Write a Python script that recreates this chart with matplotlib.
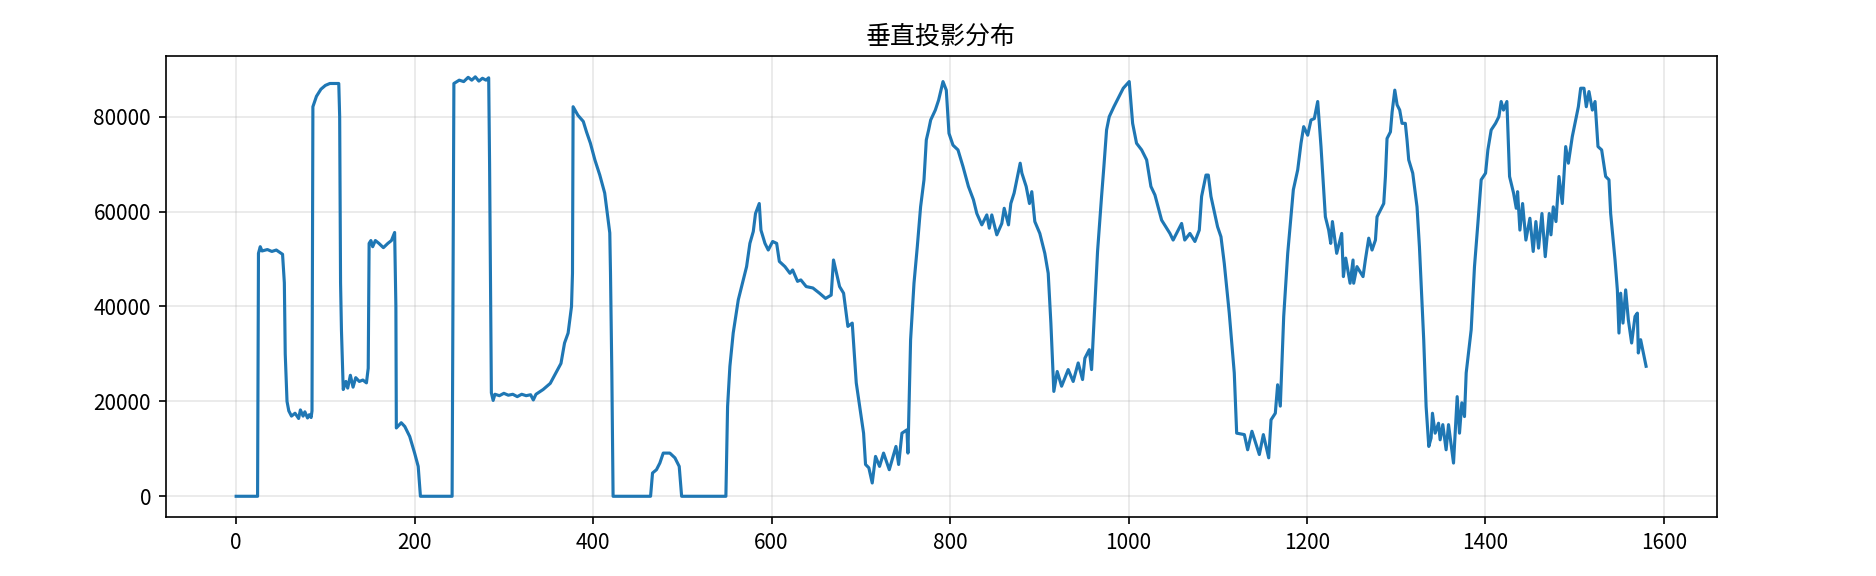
import matplotlib.pyplot as plt

plt.rcParams['font.family'] = ['Noto Sans CJK SC', 'DejaVu Sans']
plt.rcParams['axes.unicode_minus'] = False

# column index (break points)
col = [0, 24, 25, 27, 29, 35, 40, 45, 52, 54, 55, 56, 57, 59, 62, 66, 70, 72, 75, 77, 80, 82, 84, 85,
       86, 90, 95, 100, 105, 115, 116, 117, 118, 120, 123, 125, 128, 131, 134, 138, 142, 146, 148,
       149, 151, 153, 156, 160, 165, 170, 174, 177.6, 179, 179.5, 185, 189, 194.5, 200, 204, 206.5,
       242, 244, 250, 255, 260, 264, 268, 272, 276, 280, 283, 284, 286, 288, 290, 295, 300, 305,
       310, 315, 320, 325, 330, 333, 336, 344, 352, 358, 364, 368, 372, 375.8, 376.9, 377.6, 383,
       389, 392.6, 397, 402, 407.5, 413, 418.7, 419.5, 421, 422.4,
       464.4, 466.6, 471, 474.8, 478.6, 486, 491.7, 496.5, 499.2,
       548.8, 550.7, 553.3, 557, 562.7, 568.3, 572, 575.7, 579.5, 582, 586.2, 588.1, 592.6, 596.3,
       601.2, 605.7, 608.7, 615, 620.6, 623.6, 629.1, 632.8, 638.8, 646.3, 653.7, 660.5, 666.8,
       669.4, 676.2, 680.7, 685.5, 690.4, 694.9, 703.1, 705.3, 709, 712.8, 716.5, 721, 725.5,
       731.9, 739.4, 742.4, 746.1, 751.7, 752.8, 755.8, 759.6, 763.3, 767, 770.8, 773.4, 776,
       778.3, 783.5, 787.2, 792.1, 795.8, 798.8, 803.3, 808.9, 814.5,
       820.6, 826.2, 830, 835.6, 841.2, 844, 846.8, 852.4, 858, 860.7, 865.5, 868.1, 871.8, 874.8,
       878.6, 880.5, 885.3, 889, 891.6, 895, 900.6, 906.2, 910, 913, 916.3, 920.1, 925, 932.4,
       938, 943.6, 948.5, 951.1, 956, 958.6, 965.3, 969.8, 972.4, 975.4, 978.4, 983.6, 988.5,
       994.1, 1000.8, 1004.6, 1009, 1014.7, 1020.3, 1025.1, 1029.6, 1037.1, 1046.4, 1050, 1059.5,
       1063, 1068.8, 1074.4, 1079.3, 1081.9, 1086.8, 1089.4, 1092.4, 1096.1, 1099.8, 1103.6,
       1107.3, 1112.9, 1118.5, 1121.2, 1129.8, 1133.5, 1138.3, 1146.6, 1151.1, 1157.1, 1159.7,
       1164.5, 1167.1, 1170.1, 1173.9, 1178.4, 1184.7, 1189.6, 1193.3, 1196.3, 1200.8, 1204.5,
       1208.2, 1212, 1215.7, 1220.6, 1224.3, 1226.6, 1228.5, 1233.3, 1238.9, 1240.8, 1243.4,
       1248.3, 1251.6, 1252.3, 1256, 1262.8, 1265.4, 1269.2, 1272.9, 1276.7, 1278.5, 1284.1,
       1286, 1287.9, 1289.7, 1293.5, 1295.4, 1298.4, 1301, 1303.9, 1306.5, 1310.2, 1312.1, 1314,
       1318.5, 1323.3, 1326, 1330.8, 1333.5, 1336.5, 1339.1, 1340.6, 1343.6, 1347.4, 1349.2,
       1352.2, 1355.9, 1358.6, 1364.2, 1368.3, 1370.9, 1373.5, 1376.5, 1378.4, 1384, 1387.7,
       1391.5, 1395.2, 1400.1, 1402.7, 1406.4, 1411.3, 1415, 1417.6, 1420.2, 1424, 1427, 1431.5,
       1434.5, 1436, 1438.6, 1441.6, 1445.3, 1449.8, 1453.5, 1456.5, 1459.5, 1463.3, 1467,
       1471.5, 1473.4, 1476, 1479, 1482.4, 1486.1, 1489.9, 1492.9, 1497.3, 1501.1, 1504.1,
       1506.7, 1510.4, 1513, 1516, 1519.8, 1522.8, 1526.1, 1530.2, 1534.7, 1538.4, 1540.3,
       1545.2, 1547.8, 1549.6, 1551.5, 1554.1, 1557.1, 1560.1, 1563.8, 1567.6, 1570.2, 1571.3,
       1573.9, 1580]

# summed pixel values per column
proj = [0, 0, 51200, 52600, 51700, 52000, 51600, 51900, 51000, 45000, 30000, 25000, 20000, 18000,
        16900, 17500, 16400, 18200, 16900, 17800, 16500, 17200, 16600, 18000,
        82100, 84300, 85800, 86600, 87000, 87000, 80000, 45000, 35000, 22500, 24200, 22800, 25500,
        23000, 25000, 24200, 24500, 23900, 27000,
        53300, 53900, 52600, 53900, 53300, 52400, 53300, 53900, 55600, 40000, 14400, 15500, 14700,
        12600, 9100, 6300, 0,
        0, 87000, 87700, 87400, 88300, 87700, 88400, 87500, 88100, 87700, 88200, 70000, 21800,
        20200, 21500, 21200, 21700, 21300, 21500, 21000, 21500, 21200, 21400, 20300, 21500, 22500,
        23800, 25900, 28000, 32300, 34400, 40000, 47000, 82100, 80300, 79000, 76800, 74400, 70900,
        67700, 63900, 55500, 47000, 26000, 0,
        0, 4900, 5600, 7000, 9100, 9100, 8100, 6300, 0,
        0, 18900, 27400, 34400, 41400, 45600, 48400, 53300, 55800, 59600, 61700, 56100, 53300,
        51900, 53700, 53300, 49500, 48400, 47000, 47700, 45300, 45600, 44200, 43900, 42800, 41700,
        42400, 49800, 44200, 42800, 35800, 36500, 23900, 13300, 6700, 6000, 2800, 8400, 6300,
        9100, 5600, 10500, 6700, 13300, 14000, 9100, 33000, 44900, 52600, 61000, 66700, 75100,
        77200, 79300, 81400, 83500, 87400, 85600, 76500, 74000, 73000, 69500,
        65300, 62500, 59600, 57200, 59300, 56500, 59300, 55100, 57500, 60700, 57200, 61700, 63900,
        66700, 70200, 68100, 65300, 61700, 64200, 57900, 55400, 51200, 47000, 36500, 22100, 26300,
        23200, 26700, 24200, 28100, 24600, 29100, 30900, 26700, 51600, 63200, 69500, 77200, 80000,
        82100, 83900, 86000, 87400, 78600, 74400, 73000, 70900, 65300, 63500, 58200, 55400, 54000,
        57500, 54000, 55400, 53700, 56100, 63200, 67700, 67700, 63200, 60000, 56800, 54700, 49100,
        38600, 26000, 13300, 13000, 9800, 13700, 8800, 13000, 8100, 16100, 17500, 23500, 19000,
        37900, 51200, 64600, 68800, 74400, 77900, 76100, 79300, 79600, 83200, 73700, 58900, 56100,
        53300, 57900, 51200, 55400, 46300, 50200, 44900, 49800, 44900, 48400, 46300, 49800, 54400,
        51900, 54000, 58900, 61000, 61700, 67400, 75400, 76800, 81000, 85600, 82500, 81400, 78600,
        78600, 75100, 70900, 68100, 61000, 52600, 33000, 18900, 10500, 12300, 17500, 13300, 15400,
        11900, 15100, 9800, 15100, 7000, 21000, 13300, 19700, 16800, 26000, 35100, 48400, 57500,
        66700, 68100, 73000, 77200, 78600, 80000, 83200, 81400, 83200, 67400, 63900, 60700, 64200,
        56100, 61700, 54000, 58600, 51600, 57900, 52300, 59600, 50500, 59600, 55100, 61000, 57900,
        67400, 61700, 73700, 70200, 75800, 79300, 82100, 86000, 86000, 82100, 85300, 81400, 83200,
        73700, 73000, 67400, 66700, 59600, 49800, 43500, 34400, 42800, 36500, 43500, 37200, 32300,
        37900, 38600, 30200, 33000, 27400]

fig, ax = plt.subplots(figsize=(12.507, 3.84), dpi=150)
ax.plot(col, proj, color='#1f77b4', linewidth=1.5)
ax.set_title('垂直投影分布')
ax.grid(True, alpha=0.3)

fig.subplots_adjust(left=0.0883, right=0.915, top=0.903, bottom=0.102)
fig.savefig('out.png', dpi=150)
